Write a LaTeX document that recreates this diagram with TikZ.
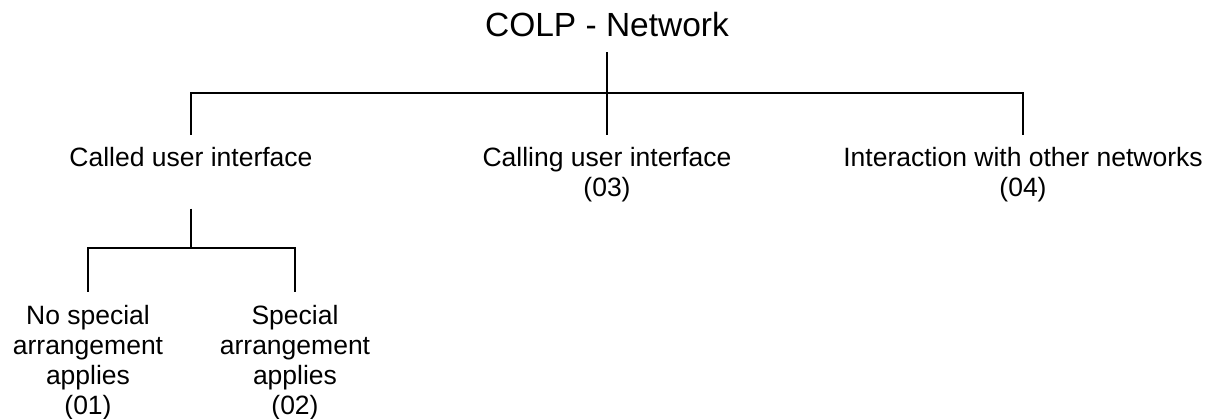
\documentclass[tikz,border=0pt]{standalone}
\usepackage{fontspec}
\setmainfont{Liberation Sans}
\begin{document}
\begin{tikzpicture}[x=1pt,y=-1pt,line width=2.2pt,
	head/.style={font=\fontsize{33.5}{40}\selectfont,inner sep=0pt,inner ysep=14pt,anchor=base},
	item/.style={font=\fontsize{26.5}{30}\selectfont,align=center,inner sep=0pt,inner ysep=11pt,anchor=north}]
	\useasboundingbox (0,0) rectangle (1215,419);
	\node [head] (colp) at (607,37) {COLP - Network};
	\coordinate (bus) at (607,93);
	\node [item] (called) at (191,135) {Called user interface};
	\node [item] (calling) at (607,135) {Calling user interface\\(03)};
	\node [item] (other) at (1023,135) {Interaction with other networks\\(04)};
	\draw (colp.south) -- (bus);
	\draw (called.north) |- (bus) -| (other.north);
	\draw (calling.north) -- (bus);
	\coordinate (subbus) at (191,248);
	\node [item,inner ysep=12pt] (nospecial) at (88,292) {No special\\arrangement\\applies\\(01)};
	\node [item,inner ysep=12pt] (special) at (295,292) {Special\\arrangement\\applies\\(02)};
	\draw ([yshift=-30pt]called.south) -- (subbus);
	\draw (nospecial.north) |- (subbus) -| (special.north);
\end{tikzpicture}
\end{document}
